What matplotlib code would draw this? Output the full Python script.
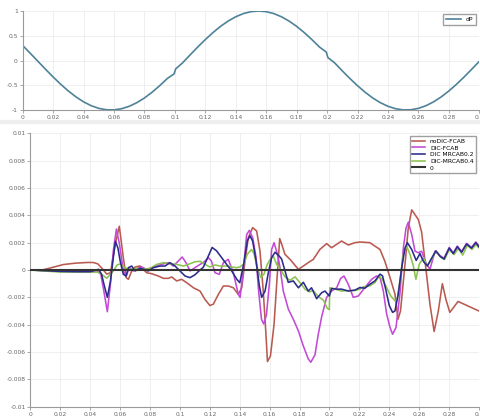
import matplotlib
matplotlib.use("Agg")
import matplotlib.pyplot as plt
import numpy as np
from matplotlib.ticker import FuncFormatter

# top panel: dP
t_dp = [0, 0.005, 0.01, 0.015, 0.02, 0.025, 0.03, 0.035, 0.04, 0.045,
        0.05, 0.055, 0.06, 0.065, 0.07, 0.075, 0.08, 0.085, 0.09, 0.095,
        0.0995, 0.1005,
        0.105, 0.11, 0.115, 0.12, 0.125, 0.13, 0.135, 0.14, 0.145, 0.15,
        0.155, 0.16, 0.165, 0.17, 0.175, 0.18, 0.185, 0.19, 0.195,
        0.1995, 0.2005,
        0.205, 0.21, 0.215, 0.22, 0.225, 0.23, 0.235, 0.24, 0.245, 0.25,
        0.255, 0.26, 0.265, 0.27, 0.275, 0.28, 0.285, 0.29, 0.295, 0.3]
v_dp = [0.303, 0.145, -0.016, -0.177, -0.333, -0.481, -0.616, -0.735, -0.835, -0.913,
        -0.967, -0.995, -0.998, -0.974, -0.925, -0.852, -0.757, -0.641, -0.509, -0.364,
        -0.27, -0.17,
        -0.049, 0.113, 0.272, 0.423, 0.564, 0.690, 0.797, 0.884, 0.948, 0.987,
        1.0, 0.987, 0.948, 0.884, 0.797, 0.690, 0.564, 0.423, 0.272,
        0.17, 0.06,
        -0.049, -0.209, -0.364, -0.509, -0.641, -0.757, -0.852, -0.925, -0.974, -0.998,
        -0.995, -0.967, -0.913, -0.835, -0.735, -0.616, -0.481, -0.334, -0.178, -0.017]

# bottom panel, values in units of 1e-3
t_nodic = [0, 0.008, 0.015, 0.022, 0.03, 0.038, 0.042, 0.045, 0.048, 0.051,
           0.0535, 0.0565, 0.0594, 0.0621, 0.064, 0.0655, 0.0677, 0.070, 0.0733, 0.0755,
           0.0777, 0.081, 0.0855, 0.0889, 0.0922, 0.0945, 0.0978, 0.1011, 0.1045, 0.109,
           0.1134, 0.1167, 0.12, 0.1223, 0.1257, 0.129, 0.1323, 0.1357, 0.139, 0.1413,
           0.1435, 0.1457, 0.1486, 0.1513, 0.1535, 0.1557, 0.1575, 0.1585, 0.1605, 0.1629,
           0.1651, 0.1667, 0.168, 0.1702, 0.1736, 0.1792, 0.1825, 0.1858, 0.1892, 0.1936,
           0.1981, 0.2014, 0.2048, 0.2081, 0.2126, 0.2171, 0.2204, 0.227, 0.2338, 0.237,
           0.2405, 0.2438, 0.2458, 0.2475, 0.2505, 0.2527, 0.255, 0.2594, 0.2616, 0.2639,
           0.2672, 0.270, 0.2728, 0.2755, 0.278, 0.2805, 0.286, 0.290, 0.294, 0.300]
v_nodic = [0, 0, 0.2, 0.4, 0.5, 0.55, 0.55, 0.45, 0.1, -0.3,
           -0.2, 1.8, 3.2, 0.9, -0.56, -0.68, -0.07, 0.22, 0.3, 0.05,
           -0.2, -0.27, -0.44, -0.61, -0.61, -0.51, -0.8, -0.68, -0.93, -1.3,
           -1.54, -2.15, -2.6, -2.5, -1.78, -1.17, -1.17, -1.3, -1.78, -1.3,
           0.66, 2.37, 3.1, 2.85, 1.39, -1.54, -4.7, -6.7, -6.3, -4.0,
           -0.3, 2.3, 1.9, 1.15, 0.78, 0.05, 0.29, 0.54, 0.78, 1.51,
           1.93, 1.63, 1.88, 2.12, 1.83, 2.0, 2.05, 2.0, 1.5, 0.65,
           -0.55, -1.76, -3.6, -3.0, 0.4, 3.07, 4.4, 3.7, 2.8, 0.65,
           -2.5, -4.5, -3.0, -1.0, -2.2, -3.1, -2.3, -2.5, -2.7, -3.0]

t_dic = [0, 0.01, 0.02, 0.03, 0.04, 0.045, 0.047, 0.049, 0.0514, 0.0535,
         0.0555, 0.0575, 0.0595, 0.0621, 0.064, 0.0661, 0.0688, 0.0722, 0.0744, 0.0777,
         0.081, 0.0844, 0.0877, 0.0922, 0.0956, 0.0989, 0.1015, 0.104, 0.1067, 0.11,
         0.1134, 0.1156, 0.119, 0.121, 0.1234, 0.1263, 0.129, 0.1323, 0.1357, 0.139,
         0.1402, 0.1423, 0.1446, 0.1464, 0.1486, 0.1509, 0.1526, 0.1545, 0.156, 0.1578,
         0.1598, 0.1613, 0.1629, 0.1651, 0.1669, 0.1691, 0.1725, 0.1758, 0.1792, 0.1825,
         0.1858, 0.1875, 0.1903, 0.1925, 0.1948, 0.1981, 0.2014, 0.2048, 0.2075, 0.2097,
         0.2126, 0.2159, 0.2193, 0.2237, 0.2282, 0.2315, 0.2338, 0.236, 0.2382, 0.2405,
         0.2422, 0.2445, 0.2471, 0.2494, 0.2512, 0.2527, 0.255, 0.2572, 0.2594, 0.2616,
         0.2645, 0.2672, 0.2706, 0.274, 0.2766, 0.2801, 0.2828, 0.2855, 0.2884, 0.2917,
         0.295, 0.2979, 0.3]
v_dic = [0, -0.05, -0.1, -0.12, -0.15, -0.1, -0.3, -1.5, -3.05, -1.0,
         1.5, 3.0, 1.9, -0.07, -0.44, 0.17, -0.07, 0.17, 0.22, 0.05,
         0.17, 0.29, 0.41, 0.54, 0.29, 0.66, 0.95, 0.54, -0.07, 0.17,
         0.41, 0.54, 0.9, 0.66, -0.2, -0.32, 0.54, 0.78, -0.2, -1.78,
         -2.0, -0.07, 2.6, 2.9, 2.37, 0.9, -1.54, -3.6, -3.95, -3.3,
         -1.0, 1.5, 2.0, 1.2, 0.2, -1.54, -2.87, -3.6, -4.46, -5.56,
         -6.5, -6.75, -6.2, -4.7, -3.4, -2.0, -1.54, -1.3, -0.61, -0.44,
         -1.05, -2.0, -1.9, -1.28, -0.68, -0.43, -0.55, -1.52, -3.2, -4.2,
         -4.7, -4.2, -1.76, 1.6, 3.07, 3.5, 2.6, 1.38, 1.26, 1.38,
         0.53, 0.05, 1.38, 1.05, 0.85, 1.65, 1.25, 1.75, 1.35, 1.95,
         1.65, 2.05, 1.75]

t_mr02 = [0, 0.01, 0.02, 0.03, 0.04, 0.0455, 0.0475, 0.0495, 0.0514, 0.0535,
          0.0555, 0.0568, 0.0585, 0.06, 0.0621, 0.064, 0.0655, 0.0677, 0.07, 0.0733,
          0.0755, 0.0788, 0.0822, 0.0866, 0.09, 0.0933, 0.0967, 0.1, 0.1034, 0.1067,
          0.11, 0.1134, 0.1156, 0.119, 0.1215, 0.1245, 0.1279, 0.1312, 0.1346, 0.138,
          0.14, 0.1428, 0.145, 0.1468, 0.1486, 0.1509, 0.1531, 0.1546, 0.1569, 0.1591,
          0.1613, 0.1636, 0.1665, 0.168, 0.1724, 0.1758, 0.1792, 0.1825, 0.1858, 0.188,
          0.1914, 0.1948, 0.197, 0.1999, 0.2014, 0.2048, 0.2081, 0.2126, 0.217, 0.2204,
          0.2237, 0.227, 0.2304, 0.2338, 0.2355, 0.2378, 0.24, 0.2422, 0.2438, 0.246,
          0.2483, 0.2505, 0.2521, 0.255, 0.258, 0.2605, 0.263, 0.2655, 0.2685, 0.2712,
          0.274, 0.2766, 0.2801, 0.2828, 0.2855, 0.2884, 0.2917, 0.295, 0.2979, 0.3]
v_mr02 = [0, -0.05, -0.1, -0.12, -0.12, 0.05, -0.3, -1.2, -2.0, -0.8,
          1.0, 2.1, 1.6, 0.66, -0.32, -0.44, 0.17, 0.29, -0.07, 0.12,
          0.05, -0.07, 0.17, 0.29, 0.29, 0.54, 0.29, -0.07, -0.44, -0.56,
          -0.35, 0.0, 0.2, 1.03, 1.65, 1.4, 0.9, 0.41, -0.07, -0.68,
          -0.93, 0.54, 2.12, 2.5, 2.12, 0.66, -1.17, -2.0, -1.54, -0.2,
          0.9, 1.3, 1.0, 0.8, -0.9, -0.8, -1.3, -0.9, -1.54, -1.3,
          -2.1, -1.66, -1.54, -1.9, -1.35, -1.4, -1.4, -1.54, -1.47, -1.28,
          -1.33, -1.04, -0.8, -0.3, -0.43, -1.5, -2.6, -3.1, -3.0, -1.76,
          0.17, 1.6, 2.0, 1.5, 0.7, 1.2, 0.6, 0.3, 0.9, 1.4,
          1.0, 0.8, 1.6, 1.2, 1.7, 1.3, 1.9, 1.6, 2.0, 1.7]

t_mr04 = [0, 0.01, 0.02, 0.03, 0.04, 0.045, 0.0476, 0.051, 0.0535, 0.0554,
          0.058, 0.06, 0.0632, 0.0666, 0.071, 0.0755, 0.08, 0.0844, 0.0889, 0.0933,
          0.0978, 0.1023, 0.1067, 0.11, 0.1134, 0.1167, 0.12, 0.1234, 0.1268, 0.1312,
          0.1346, 0.1379, 0.14, 0.1428, 0.145, 0.1478, 0.1495, 0.1517, 0.154, 0.1562,
          0.1584, 0.1607, 0.1625, 0.1647, 0.1669, 0.1702, 0.1736, 0.177, 0.1803, 0.1836,
          0.1865, 0.1892, 0.1925, 0.1959, 0.1985, 0.1999, 0.2002, 0.2037, 0.2081, 0.2126,
          0.2171, 0.2204, 0.2226, 0.227, 0.2304, 0.2333, 0.236, 0.2382, 0.2409, 0.2438,
          0.2454, 0.2471, 0.2494, 0.2516, 0.2539, 0.2561, 0.2578, 0.26, 0.2628, 0.2654,
          0.2683, 0.2712, 0.2744, 0.277, 0.2801, 0.2833, 0.2862, 0.2891, 0.2922, 0.2953,
          0.2979, 0.3]
v_mr04 = [0, -0.08, -0.15, -0.15, -0.15, -0.15, -0.32, -0.6, -0.3, -0.07,
          0.37, 0.45, 0.17, 0.05, 0.12, 0.05, 0.12, 0.41, 0.54, 0.46,
          0.41, 0.29, 0.46, 0.6, 0.64, 0.41, 0.22, 0.37, 0.29, 0.29,
          0.22, 0.17, 0.22, 0.45, 1.15, 1.5, 1.2, 0.17, -0.55, -0.3,
          0.41, 0.85, 1.0, 0.4, 0.1, -0.5, -0.75, -0.5, -0.93, -1.4,
          -1.6, -1.5, -1.95, -2.2, -2.8, -2.9, -1.3, -1.4, -1.54, -1.5,
          -1.5, -1.4, -1.23, -1.16, -0.92, -0.43, -0.8, -1.28, -1.88, -2.25,
          -2.1, -0.8, 1.13, 1.74, 1.13, 0.29, -0.68, 0.41, 0.9, 0.29,
          0.77, 1.38, 0.94, 0.77, 1.5, 1.13, 1.57, 1.09, 1.81, 1.5,
          1.86, 1.62]

t_zero = [0, 0.3]
v_zero = [0, 0]

series = [
    ("noDIC-FCAB", t_nodic, v_nodic, "#b95a50", 2),
    ("DIC-FCAB", t_dic, v_dic, "#c24ad6", 3),
    ("DIC MRCAB0.2", t_mr02, v_mr02, "#2b2b8c", 5),
    ("DIC-MRCAB0.4", t_mr04, v_mr04, "#8cc34f", 4),
    ("0", t_zero, v_zero, "#333333", 6),
]

tick_col = "#666666"
spine_col = "#9a9a9a"
grid_col = "#ececec"
fs = 4.3


def style(ax):
    for s in ["top", "right"]:
        ax.spines[s].set_visible(False)
    for s in ["left", "bottom"]:
        ax.spines[s].set_color(spine_col)
        ax.spines[s].set_linewidth(0.8)
    ax.tick_params(axis="both", labelsize=fs, colors=tick_col, length=2,
                   width=0.6, pad=1.5)
    ax.tick_params(axis="both", color=spine_col)
    ax.grid(True, color=grid_col, linewidth=0.6)
    ax.set_axisbelow(True)
    ax.set_xlim(0, 0.3)
    ax.set_xticks(np.arange(0, 0.301, 0.02))
    ax.xaxis.set_major_formatter(FuncFormatter(lambda x, p: "%g" % round(x, 4)))
    ax.yaxis.set_major_formatter(FuncFormatter(lambda y, p: "%g" % round(y, 5)))


fig = plt.figure(figsize=(4.81, 4.17), dpi=100)

ax1 = fig.add_axes([0.0472, 0.7362, 0.9492, 0.2374])
style(ax1)
ax1.plot(t_dp, v_dp, color="#4e8298", linewidth=1.2, label="dP")
ax1.set_ylim(-1, 1)
ax1.set_yticks([-1, -0.5, 0, 0.5, 1])
ax1.legend(loc="upper right", fontsize=fs, frameon=True, fancybox=False,
           edgecolor="#888888", handlelength=2.6, borderpad=0.45,
           bbox_to_anchor=(1.0, 1.0))

# faint separator strip between the panels
fig.add_artist(plt.Line2D([0, 1], [0.708, 0.708], color="#eeeeee", linewidth=3))

ax2 = fig.add_axes([0.0634, 0.0247, 0.9324, 0.6556])
style(ax2)
handles = []
for name, t, v, col, z in series:
    lw = 1.5 if name == "0" else 1.15
    h, = ax2.plot(t, np.array(v) * 1e-3, color=col, linewidth=lw, label=name, zorder=z)
    handles.append(h)
ax2.set_ylim(-0.01, 0.01)
ax2.set_yticks(np.arange(-0.01, 0.0101, 0.002))
ax2.legend(handles=handles, loc="upper right", fontsize=fs, frameon=True,
           fancybox=False, edgecolor="#888888", handlelength=2.2,
           borderpad=0.4, labelspacing=0.25, bbox_to_anchor=(1.0, 1.0))

fig.savefig("out.png", dpi=100)
